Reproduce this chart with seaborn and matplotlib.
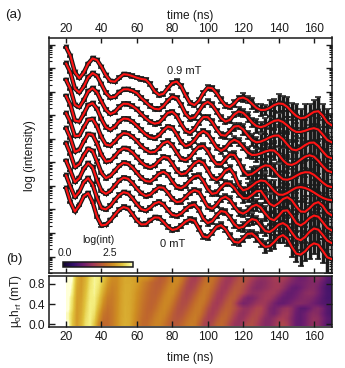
import numpy as np
import pandas as pd
import seaborn as sns
import matplotlib.pyplot as plt
from matplotlib.colors import LinearSegmentedColormap
from matplotlib.ticker import LogLocator, NullFormatter, MultipleLocator

# time axis of the traces (ns)
time_ns = [20 + 2.5 * i for i in range(61)]
x_ticks = [20, 40, 60, 80, 100, 120, 140, 160]
field_mT = [0.0, 0.1, 0.2, 0.3, 0.4, 0.5, 0.6, 0.7, 0.8, 0.9]
field_ticks = [0.0, 0.4, 0.8]

# log10(intensity), one list per field
log_int_00 = [3.78,3.18,2.78,3.04,3.43,3.56,3.18,2.55,2.19,2.22,
              2.40,2.64,2.86,2.97,2.91,2.67,2.40,2.23,2.24,2.40,
              2.53,2.52,2.34,2.13,2.00,2.04,2.18,2.35,2.45,2.39,
              2.06,1.72,1.68,1.89,2.13,2.20,2.03,1.73,1.49,1.46,
              1.63,1.83,1.85,1.69,1.45,1.28,1.31,1.48,1.69,1.78,
              1.63,1.28,0.99,0.95,1.09,1.31,1.43,1.37,1.11,0.84,0.76]
log_int_01 = [3.69,3.20,2.76,2.99,3.39,3.57,3.30,2.73,2.29,2.24,
              2.39,2.63,2.85,2.97,2.92,2.71,2.46,2.25,2.19,2.31,
              2.49,2.56,2.45,2.21,2.01,1.97,2.06,2.25,2.40,2.45,
              2.23,1.86,1.66,1.74,1.98,2.17,2.13,1.90,1.62,1.45,
              1.50,1.69,1.83,1.78,1.54,1.32,1.28,1.41,1.59,1.66,
              1.54,1.26,1.01,0.93,1.07,1.29,1.43,1.38,1.16,0.92,0.81]
log_int_02 = [3.68,3.24,2.77,2.94,3.34,3.57,3.40,2.85,2.39,2.27,
              2.39,2.62,2.84,2.96,2.91,2.73,2.49,2.29,2.18,2.23,
              2.41,2.55,2.53,2.32,2.06,1.92,1.95,2.13,2.32,2.43,
              2.36,2.05,1.72,1.64,1.81,2.06,2.15,2.02,1.75,1.51,
              1.43,1.54,1.73,1.81,1.69,1.44,1.22,1.15,1.33,1.55,
              1.57,1.33,1.03,0.93,1.05,1.24,1.35,1.30,1.07,0.83,0.72]
log_int_03 = [3.79,3.33,2.77,2.91,3.28,3.56,3.47,3.02,2.53,2.31,
              2.40,2.61,2.83,2.96,2.92,2.76,2.54,2.32,2.18,2.16,
              2.30,2.50,2.58,2.45,2.17,1.93,1.88,2.00,2.21,2.38,
              2.42,2.19,1.85,1.64,1.68,1.91,2.09,2.08,1.90,1.64,
              1.46,1.45,1.59,1.75,1.77,1.51,1.22,1.12,1.24,1.42,
              1.50,1.37,1.10,0.89,0.88,1.03,1.22,1.29,1.13,0.85,0.73]
log_int_04 = [3.80,3.37,2.79,2.88,3.24,3.55,3.52,3.15,2.67,2.38,
              2.41,2.60,2.83,2.95,2.91,2.77,2.56,2.35,2.20,2.13,
              2.21,2.42,2.58,2.54,2.30,2.00,1.84,1.88,2.08,2.30,
              2.42,2.33,2.03,1.71,1.60,1.74,1.99,2.09,1.83,1.37,
              1.16,1.22,1.35,1.50,1.58,1.55,1.36,1.14,0.98,0.97,
              1.05,1.17,1.27,1.30,1.26,1.18,1.07,0.95,0.84,0.77,0.74]
log_int_05 = [3.80,3.41,2.82,2.84,3.19,3.52,3.55,3.24,2.78,2.46,
              2.42,2.59,2.81,2.95,2.92,2.80,2.61,2.40,2.24,2.13,
              2.15,2.32,2.53,2.60,2.43,2.13,1.85,1.80,1.93,2.18,
              2.38,2.41,2.19,1.86,1.63,1.62,1.84,2.04,2.02,1.73,
              1.36,1.17,1.21,1.34,1.49,1.58,1.56,1.38,1.15,0.99,
              0.97,1.03,1.14,1.24,1.29,1.28,1.18,1.02,0.85,0.71,0.66]
log_int_06 = [3.90,3.51,2.85,2.81,3.14,3.51,3.59,3.35,2.92,2.57,
              2.46,2.59,2.82,2.94,2.92,2.81,2.63,2.44,2.26,2.14,
              2.10,2.22,2.44,2.60,2.55,2.27,1.94,1.76,1.83,2.02,
              2.28,2.41,2.29,2.01,1.71,1.57,1.68,1.92,2.04,1.95,
              1.74,1.51,1.39,1.40,1.46,1.54,1.59,1.58,1.41,1.17,
              1.00,0.97,1.05,1.19,1.32,1.38,1.32,1.14,0.92,0.73,0.66]
log_int_07 = [3.95,3.56,2.89,2.79,3.09,3.46,3.60,3.42,3.03,2.68,
              2.50,2.58,2.80,2.94,2.93,2.84,2.70,2.50,2.32,2.17,
              2.09,2.13,2.33,2.55,2.60,2.42,2.08,1.79,1.70,1.86,
              2.15,2.37,2.37,2.16,1.86,1.61,1.58,1.77,1.97,1.99,
              1.85,1.61,1.40,1.30,1.33,1.41,1.51,1.58,1.59,1.43,
              1.20,1.00,0.96,1.05,1.18,1.28,1.29,1.14,0.91,0.70,0.62]
log_int_08 = [4.02,3.63,2.95,2.78,3.04,3.43,3.61,3.49,3.14,2.77,
              2.57,2.60,2.79,2.92,2.92,2.86,2.76,2.55,2.38,2.20,
              2.09,2.07,2.21,2.44,2.61,2.55,2.26,1.88,1.68,1.73,
              1.99,2.27,2.39,2.26,1.99,1.70,1.55,1.62,1.85,1.98,
              1.92,1.74,1.52,1.36,1.31,1.37,1.48,1.58,1.61,1.53,
              1.38,1.21,1.11,1.11,1.16,1.23,1.27,1.21,1.00,0.77,0.67]
log_int_09 = [4.08,3.70,3.01,2.76,3.00,3.38,3.60,3.53,3.24,2.89,
              2.64,2.61,2.78,2.93,2.91,2.85,2.78,2.73,2.70,2.50,
              2.21,2.05,2.10,2.34,2.56,2.62,2.42,2.04,1.71,1.62,
              1.80,2.13,2.36,2.34,2.13,1.84,1.60,1.54,1.69,1.90,
              1.94,1.85,1.68,1.50,1.41,1.42,1.50,1.62,1.69,1.67,
              1.54,1.34,1.16,1.06,1.09,1.21,1.33,1.36,1.17,0.89,0.76]
log_int = [log_int_00, log_int_01, log_int_02, log_int_03, log_int_04,
           log_int_05, log_int_06, log_int_07, log_int_08, log_int_09]

# vertical waterfall shift of each trace, in decades
shift = [0.13, 0.76, 1.39, 2.02, 2.65, 3.29, 3.92, 4.55, 5.18, 5.81]

# error bars (decades): same up to 107.5 ns, then one list per field
err_early = [.02,.02,.02,.03,.03,.04,.05,.05,.05,.06,
             .06,.06,.07,.07,.07,.07,.07,.08,.08,.08,
             .08,.08,.08,.08,.09,.09,.09,.09,.10,.10,
             .10,.10,.11,.11,.11,.12]
err_late_00 = [.10,.13,.11,.15,.13,.18,.16,.22,.18,.25,.20,.30,.26,.34,.30,.42,.36,.48,.40,.55,.44,.62,.50,.72,.60]
err_late_01 = [.12,.10,.16,.12,.20,.15,.24,.18,.30,.22,.34,.26,.42,.32,.46,.36,.52,.40,.60,.46,.70,.52,.66,.58,.64]
err_late_02 = [.10,.14,.12,.18,.14,.22,.18,.26,.20,.32,.26,.38,.28,.44,.34,.50,.40,.56,.44,.64,.52,.60,.70,.56,.62]
err_late_03 = [.13,.11,.17,.13,.21,.16,.27,.20,.33,.24,.40,.28,.46,.34,.52,.40,.58,.46,.66,.50,.58,.72,.54,.64,.60]
err_late_04 = [.10,.15,.11,.19,.15,.24,.17,.30,.22,.36,.26,.44,.30,.50,.36,.56,.42,.62,.48,.70,.54,.60,.66,.58,.68]
err_late_05 = [.14,.10,.18,.14,.22,.16,.28,.20,.34,.25,.42,.30,.48,.36,.54,.40,.60,.46,.68,.52,.62,.56,.72,.60,.64]
err_late_06 = [.10,.13,.15,.18,.14,.24,.19,.29,.23,.35,.27,.42,.31,.50,.37,.55,.43,.63,.47,.60,.70,.54,.64,.58,.66]
err_late_07 = [.12,.11,.17,.13,.22,.17,.26,.21,.32,.24,.40,.29,.46,.35,.53,.39,.60,.44,.66,.50,.58,.68,.55,.62,.60]
err_late_08 = [.10,.14,.12,.18,.16,.22,.18,.28,.22,.34,.26,.40,.30,.48,.36,.54,.40,.60,.46,.56,.66,.50,.62,.56,.60]
err_late_09 = [.11,.10,.14,.12,.18,.15,.22,.18,.27,.22,.33,.26,.38,.32,.44,.36,.50,.40,.56,.44,.52,.60,.48,.56,.50]
err_late = [err_late_00, err_late_01, err_late_02, err_late_03, err_late_04,
            err_late_05, err_late_06, err_late_07, err_late_08, err_late_09]

# colours of the map, taken from the bar in the picture
map_colors = [(0.00, "#0f0528"), (0.15, "#32106a"), (0.30, "#6e1e6e"), (0.45, "#a53c55"),
              (0.60, "#c0682c"), (0.72, "#cf8f22"), (0.85, "#e1c33c"), (0.95, "#f5f082"),
              (1.00, "#ffffd7")]

sns.set_theme(style="ticks")
plt.rcParams['font.family'] = ['Liberation Sans', 'DejaVu Sans']
plt.rcParams['mathtext.default'] = 'regular'
plt.rcParams['axes.linewidth'] = 1.1
for key in ['text.color', 'axes.labelcolor', 'xtick.color', 'ytick.color', 'axes.edgecolor']:
    plt.rcParams[key] = 'k'
FS = 8.6
W, H = 345, 368

# long table for seaborn
t = np.array(time_ns)
rows = []
for k, fld in enumerate(field_mT):
    rows.append(pd.DataFrame({"time": t, "field": fld,
                              "intensity": 10 ** (np.array(log_int[k]) + shift[k]),
                              "err": err_early + err_late[k]}))
df = pd.concat(rows, ignore_index=True)

fig = plt.figure(figsize=(W / 100, H / 100), dpi=100)
ax = fig.add_axes([48.7 / W, 1 - 273 / H, 283.3 / W, 235.5 / H])
ax2 = fig.add_axes([48.7 / W, 1 - 326.5 / H, 283.3 / W, 51 / H])

# (a) traces
ax.set_yscale("log")
lo = df["intensity"] * (1 - 10 ** (-df["err"]))
hi = df["intensity"] * (10 ** df["err"] - 1)
ax.errorbar(df["time"], df["intensity"], yerr=[lo, hi], fmt="none", ecolor="k",
            elinewidth=2.5, capsize=2.3, capthick=1.1, zorder=1)
sns.lineplot(data=df, x="time", y="intensity", hue="field", palette=["k"] * 10,
             estimator=None, lw=3.2, legend=False, ax=ax, zorder=2)
sns.scatterplot(data=df, x="time", y="intensity", marker="v", color="k", s=17,
                linewidth=0, legend=False, ax=ax, zorder=2)
sns.lineplot(data=df, x="time", y="intensity", hue="field", palette=["#ff1414"] * 10,
             estimator=None, lw=1.5, legend=False, ax=ax, zorder=3)
ax.set_xlim(10.2, 170.2)
ax.set_ylim(10 ** 0.3, 10 ** 10.3)
ax.set_xticks(x_ticks)
ax.xaxis.set_ticks_position("both")
ax.xaxis.set_label_position("top")
ax.tick_params(axis="x", which="major", direction="in", length=3.5, width=1,
               labeltop=True, labelbottom=False, labelsize=FS, pad=1.5)
ax.yaxis.set_major_locator(LogLocator(base=10, numticks=15))
ax.yaxis.set_minor_locator(LogLocator(base=10, subs=np.arange(2, 10), numticks=15))
ax.yaxis.set_major_formatter(NullFormatter())
ax.yaxis.set_minor_formatter(NullFormatter())
ax.tick_params(axis="y", which="major", direction="in", length=4.5, width=1, left=True, right=True)
ax.tick_params(axis="y", which="minor", direction="in", length=2, width=0.8, left=True, right=True)
ax.set_xlabel("time (ns)", fontsize=FS, labelpad=3)
ax.set_ylabel("log (intensity)", fontsize=FS, labelpad=6)
ax.annotate("0.9 mT", xy=(184 / W, 1 - 71 / H), xycoords="figure fraction",
            ha="center", va="center", fontsize=FS - 0.6)
ax.annotate("0 mT", xy=(173 / W, 1 - 244 / H), xycoords="figure fraction",
            ha="center", va="center", fontsize=FS - 0.6)

# (b) map
heat = np.array(log_int)
cmap = LinearSegmentedColormap.from_list("trace_map", map_colors)
im = ax2.imshow(heat, origin="lower", aspect="auto", cmap=cmap, vmin=-0.1, vmax=3.75,
                extent=[time_ns[0], time_ns[-1] + 1, -0.05, 0.95], interpolation="bilinear")
ax2.set_xlim(10.2, 170.2)
ax2.set_ylim(-0.04, 0.96)
ax2.set_xticks(x_ticks)
ax2.set_yticks(field_ticks)
ax2.set_yticklabels([f"{v:.1f}" for v in field_ticks])
ax2.tick_params(axis="both", direction="in", length=4, width=1, top=True, right=True,
                labelsize=FS, pad=3)
ax2.set_xlabel("time (ns)", fontsize=FS, labelpad=7)
ax2.set_ylabel("μ$_0$h$_{rf}$ (mT)", fontsize=FS, labelpad=3)

# colour bar sitting in the lower left of panel (a)
cax = fig.add_axes([62.5 / W, 1 - 267.3 / H, 70.5 / W, 5.6 / H])
cb = fig.colorbar(im, cax=cax, orientation="horizontal")
cb.set_ticks([0.0, 2.5])
cb.ax.xaxis.set_minor_locator(MultipleLocator(0.5))
cb.ax.xaxis.set_ticks_position("top")
cb.ax.tick_params(axis="x", which="major", direction="in", length=3, width=0.8, labelsize=FS - 1, pad=2.5)
cb.ax.tick_params(axis="x", which="minor", direction="in", length=2, width=0.6)
cb.set_ticklabels(["0.0", "2.5"])
cb.outline.set_linewidth(1.1)
fig.text(98 / W, 1 - 240 / H, "log(int)", ha="center", va="center", fontsize=FS - 1)

fig.text(5 / W, 1 - 15 / H, "(a)", ha="left", va="center", fontsize=FS + 1)
fig.text(6 / W, 1 - 259 / H, "(b)", ha="left", va="center", fontsize=FS + 1)

fig.savefig("out.png", dpi=100)
